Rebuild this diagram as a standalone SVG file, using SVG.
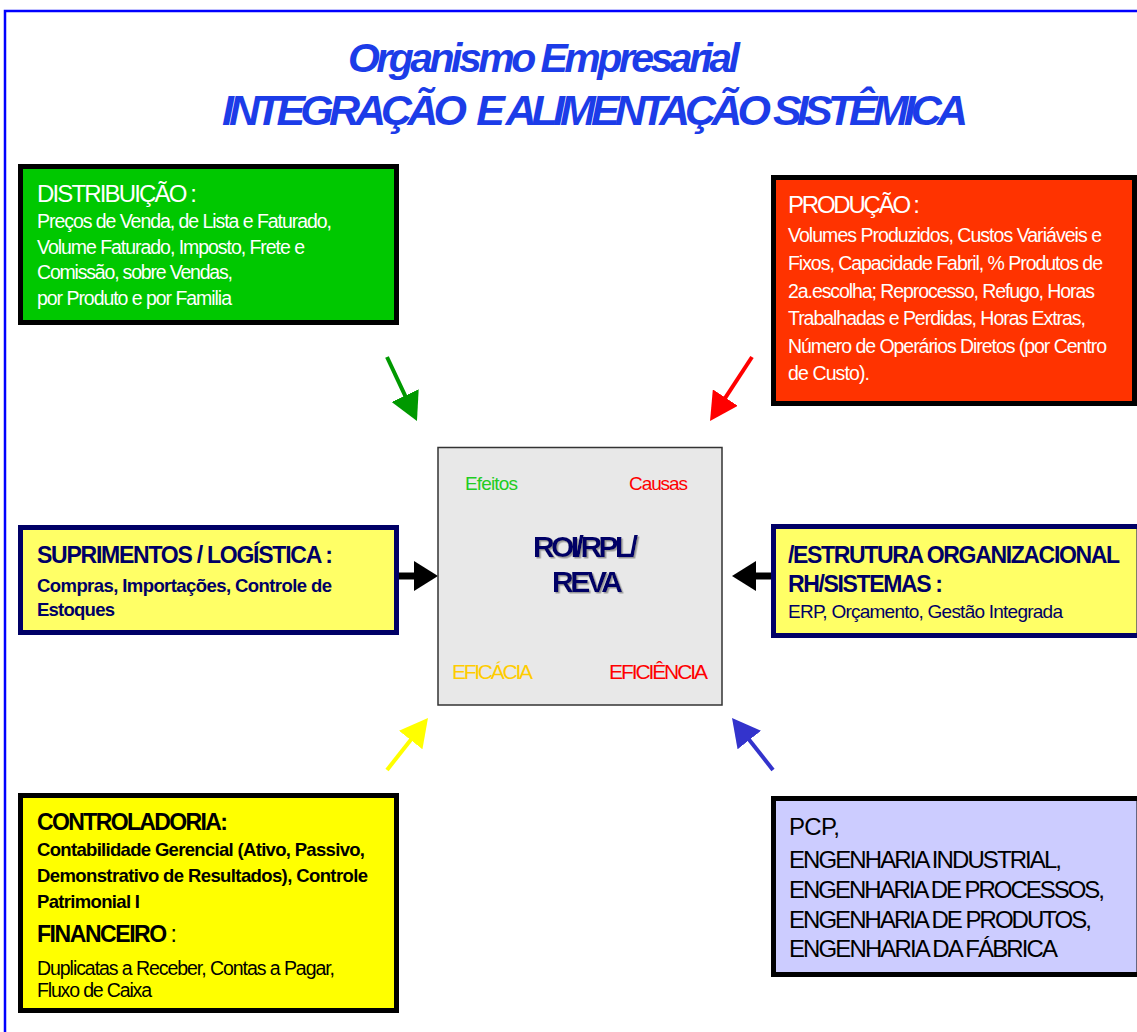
<svg xmlns="http://www.w3.org/2000/svg" width="1137" height="1032" viewBox="0 0 1137 1032">
<style>
text{font-family:"Liberation Sans",Arial,sans-serif;}
.title{font-weight:bold;font-style:italic;fill:#1c3ce8;}
.b{font-weight:bold;}
.w{fill:#ffffff;}
.navy{fill:#000066;}
.k{fill:#000000;}
.box{stroke-width:5;}
.arrow{fill:none;stroke-width:4;}
.barrow{fill:none;stroke:#000;stroke-width:7;}
</style>
<defs>
<marker id="mG" markerUnits="userSpaceOnUse" markerWidth="30" markerHeight="30" refX="8" refY="15" orient="auto"><path d="M0,0 L28,15 L0,30 z" fill="#009900"/></marker>
<marker id="mR" markerUnits="userSpaceOnUse" markerWidth="30" markerHeight="30" refX="8" refY="15" orient="auto"><path d="M0,0 L28,15 L0,30 z" fill="#ff0000"/></marker>
<marker id="mY" markerUnits="userSpaceOnUse" markerWidth="30" markerHeight="30" refX="8" refY="15" orient="auto"><path d="M0,0 L28,15 L0,30 z" fill="#ffff00"/></marker>
<marker id="mB" markerUnits="userSpaceOnUse" markerWidth="30" markerHeight="30" refX="8" refY="15" orient="auto"><path d="M0,0 L28,15 L0,30 z" fill="#3333cc"/></marker>
<marker id="mK" markerUnits="userSpaceOnUse" markerWidth="24" markerHeight="30" refX="4" refY="15" orient="auto"><path d="M0,0 L24,15 L0,30 z" fill="#000"/></marker>
<filter id="shadow" x="-10%" y="-10%" width="130%" height="130%"><feDropShadow dx="1.5" dy="1.5" stdDeviation="0.3" flood-color="#999999"/></filter>
</defs>
<rect x="0" y="0" width="1137" height="1032" fill="#ffffff"/>
<g id="frame" fill="none" stroke="#0000ff" stroke-width="2.5">
<path d="M5,1032 L5,11 L1137,11"/>
</g>
<g id="title">
<text class="title" x="348" y="72" font-size="41" textLength="392">Organismo Empresarial</text>
<text class="title" x="222" y="125" font-size="43" textLength="746" xml:space="preserve">INTEGRAÇÃO  E ALIMENTAÇÃO SISTÊMICA</text>
</g>
<g id="connectors">
<line class="arrow" stroke="#009900" x1="387" y1="357" x2="408.5" y2="402.9" marker-end="url(#mG)"/>
<line class="arrow" stroke="#ff0000" x1="752" y1="357" x2="721" y2="404.3" marker-end="url(#mR)"/>
<line class="arrow" stroke="#ffff00" x1="387" y1="770" x2="415.6" y2="733.7" marker-end="url(#mY)"/>
<line class="arrow" stroke="#3333cc" x1="773" y1="770" x2="744.4" y2="733.7" marker-end="url(#mB)"/>
<line class="barrow" x1="397" y1="576" x2="418" y2="576" marker-end="url(#mK)"/>
<line class="barrow" x1="773" y1="576" x2="752" y2="576" marker-end="url(#mK)"/>
</g>
<g id="distribuicao">
<rect class="box" x="20.5" y="166.5" width="376" height="156" fill="#00c800" stroke="#000"/>
<text class="w" x="37" y="202" font-size="24" textLength="160">DISTRIBUIÇÃO :</text>
<text class="w" x="37" y="228" font-size="19.5" textLength="295">Preços de Venda, de Lista e Faturado,</text>
<text class="w" x="37" y="254" font-size="19.5" textLength="268">Volume Faturado, Imposto, Frete e</text>
<text class="w" x="37" y="279" font-size="19.5" textLength="196">Comissão, sobre Vendas,</text>
<text class="w" x="37" y="305" font-size="19.5" textLength="195">por Produto e por Familia</text>
</g>
<g id="producao">
<rect class="box" x="773.5" y="177.5" width="361" height="226" fill="#ff3300" stroke="#000"/>
<text class="w" x="788" y="213" font-size="24" textLength="132">PRODUÇÃO :</text>
<text class="w" x="788" y="242" font-size="19.5" textLength="314">Volumes Produzidos, Custos Variáveis e</text>
<text class="w" x="788" y="270" font-size="19.5" textLength="315">Fixos, Capacidade Fabril, % Produtos de</text>
<text class="w" x="788" y="298" font-size="19.5" textLength="307">2a.escolha; Reprocesso, Refugo, Horas</text>
<text class="w" x="788" y="325" font-size="19.5" textLength="298">Trabalhadas e Perdidas, Horas Extras,</text>
<text class="w" x="788" y="353" font-size="19.5" textLength="319">Número de Operários Diretos (por Centro</text>
<text class="w" x="788" y="380" font-size="19.5" textLength="82">de Custo).</text>
</g>
<g id="centro">
<rect x="438" y="447.5" width="284" height="257.5" fill="#e8e8e8" stroke="#333333" stroke-width="1.5"/>
<text x="465" y="490" font-size="19" fill="#22cc22" textLength="53">Efeitos</text>
<text x="629" y="490" font-size="19" fill="#ff0000" textLength="59">Causas</text>
<g filter="url(#shadow)">
<text class="b navy" x="533" y="557" font-size="30" textLength="105">ROI/RPL/</text>
<text class="b navy" x="552" y="592" font-size="30" textLength="71">REVA</text>
</g>
<text x="452" y="679" font-size="21" fill="#ffcc00" textLength="81">EFICÁCIA</text>
<text x="609" y="679" font-size="21" fill="#ff0000" textLength="99">EFICIÊNCIA</text>
</g>
<g id="suprimentos">
<rect class="box" x="20.5" y="527.5" width="376" height="105" fill="#ffff66" stroke="#000066"/>
<text class="b navy" x="37" y="563" font-size="23" textLength="296">SUPRIMENTOS / LOGÍSTICA :</text>
<text class="b navy" x="37" y="592" font-size="18.5" textLength="295">Compras, Importações, Controle de</text>
<text class="b navy" x="37" y="616" font-size="18.5" textLength="78">Estoques</text>
</g>
<g id="estrutura">
<rect class="box" x="773.5" y="526.5" width="365.5" height="109" fill="#ffff66" stroke="#000066"/>
<text class="b navy" x="788" y="563" font-size="23" textLength="332">/ESTRUTURA ORGANIZACIONAL</text>
<text class="b navy" x="788" y="592" font-size="23" textLength="155">RH/SISTEMAS :</text>
<text class="navy" x="788" y="618" font-size="19" textLength="275">ERP, Orçamento, Gestão Integrada</text>
</g>
<g id="controladoria">
<rect class="box" x="20.5" y="795.5" width="376" height="215" fill="#ffff00" stroke="#000"/>
<text class="b k" x="37" y="830" font-size="23" textLength="191">CONTROLADORIA:</text>
<text class="b k" x="37" y="856" font-size="18.5" textLength="328">Contabilidade Gerencial (Ativo, Passivo,</text>
<text class="b k" x="37" y="882" font-size="18.5" textLength="331">Demonstrativo de Resultados), Controle</text>
<text class="b k" x="37" y="908" font-size="18.5" textLength="103">Patrimonial I</text>
<text class="k" x="37" y="942" font-size="23" textLength="140"><tspan class="b">FINANCEIRO</tspan> :</text>
<text class="k" x="37" y="975" font-size="19.5" textLength="298">Duplicatas a Receber, Contas a Pagar,</text>
<text class="k" x="37" y="997" font-size="19.5" textLength="115">Fluxo de Caixa</text>
</g>
<g id="pcp">
<rect class="box" x="773.5" y="798.5" width="365.5" height="176" fill="#ccccff" stroke="#000"/>
<text class="k" x="789" y="835" font-size="24" textLength="51">PCP,</text>
<text class="k" x="789" y="868" font-size="24" textLength="273">ENGENHARIA INDUSTRIAL,</text>
<text class="k" x="789" y="898" font-size="24" textLength="316">ENGENHARIA DE PROCESSOS,</text>
<text class="k" x="789" y="928" font-size="24" textLength="303">ENGENHARIA DE PRODUTOS,</text>
<text class="k" x="789" y="957" font-size="24" textLength="269">ENGENHARIA DA FÁBRICA</text>
</g>
</svg>
